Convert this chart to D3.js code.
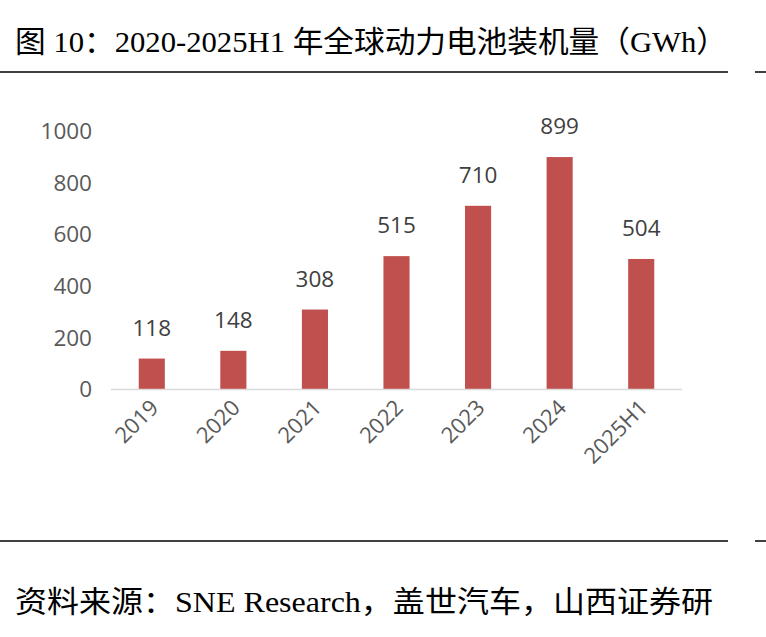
<!DOCTYPE html>
<html>
<head>
<meta charset="utf-8">
<script src="https://cdn.jsdelivr.net/npm/d3@7"></script>
<style>
  body { margin: 0; background: #fff; }
</style>
</head>
<body>
<svg id="chart" width="766" height="637"></svg>
<script>
var years = ['2019', '2020', '2021', '2022', '2023', '2024', '2025H1'];
var installs = [118, 148, 308, 515, 710, 899, 504];
var yTicks = [0, 200, 400, 600, 800, 1000];

var svg = d3.select('#chart');
var cjk = '"Liberation Serif", "Times New Roman", "Noto Sans CJK SC", serif';
var sans = '"Open Sans", "Noto Sans", sans-serif';

// title + rules
svg.append('text')
    .attr('x', 15)
    .attr('y', 52)
    .attr('textLength', 712)
    .attr('lengthAdjust', 'spacingAndGlyphs')
    .style('font-family', cjk)
    .style('font-size', '30px')
    .style('fill', '#000')
    .text('图 10：2020-2025H1 年全球动力电池装机量（GWh）');

svg.append('line')
    .attr('x1', 0).attr('x2', 728)
    .attr('y1', 72).attr('y2', 72)
    .style('stroke', '#000').style('stroke-width', 1.5);
svg.append('line')
    .attr('x1', 755).attr('x2', 766)
    .attr('y1', 72).attr('y2', 72)
    .style('stroke', '#000').style('stroke-width', 1.5);

svg.append('line')
    .attr('x1', 0).attr('x2', 728)
    .attr('y1', 541).attr('y2', 541)
    .style('stroke', '#000').style('stroke-width', 1.5);
svg.append('line')
    .attr('x1', 755).attr('x2', 766)
    .attr('y1', 541).attr('y2', 541)
    .style('stroke', '#000').style('stroke-width', 1.5);

svg.append('text')
    .attr('x', 15)
    .attr('y', 612)
    .attr('textLength', 698)
    .attr('lengthAdjust', 'spacingAndGlyphs')
    .style('font-family', cjk)
    .style('font-size', '30px')
    .style('fill', '#000')
    .text('资料来源：SNE Research，盖世汽车，山西证券研');

// scales
var x = d3.scaleBand()
    .domain(years)
    .range([111, 682])
    .paddingInner(0.68)
    .paddingOuter(0.34);

var y = d3.scaleLinear()
    .domain([0, 1000])
    .range([389, 131]);

// y tick labels
svg.selectAll('.ytick')
    .data(yTicks)
    .enter().append('text')
    .attr('x', 92)
    .attr('y', function(d) { return y(d); })
    .attr('dy', '0.36em')
    .attr('text-anchor', 'end')
    .style('font-family', sans)
    .style('font-size', '22.5px')
    .style('fill', '#595959')
    .text(function(d) { return d; });

// bars
svg.selectAll('.bar')
    .data(installs)
    .enter().append('rect')
    .attr('x', function(d, i) { return x(years[i]); })
    .attr('y', function(d) { return y(d); })
    .attr('width', x.bandwidth())
    .attr('height', function(d) { return y(0) - y(d); })
    .style('fill', '#c0504d');

// baseline
svg.append('line')
    .attr('x1', 111).attr('x2', 682)
    .attr('y1', y(0) + 0.5).attr('y2', y(0) + 0.5)
    .style('stroke', '#d9d9d9').style('stroke-width', 1.5);

// value labels
svg.selectAll('.val')
    .data(installs)
    .enter().append('text')
    .attr('x', function(d, i) { return x(years[i]) + x.bandwidth() / 2; })
    .attr('y', function(d) { return y(d) - 23; })
    .attr('text-anchor', 'middle')
    .style('font-family', sans)
    .style('font-size', '22.5px')
    .style('fill', '#404040')
    .text(function(d) { return d; });

// x labels, rotated
svg.selectAll('.xlab')
    .data(years)
    .enter().append('text')
    .attr('transform', function(d) {
        var cx = x(d) + x.bandwidth() / 2 + 8;
        return 'translate(' + cx + ',' + 409 + ') rotate(-45)';
    })
    .attr('text-anchor', 'end')
    .style('font-family', sans)
    .style('font-size', '22px')
    .style('fill', '#595959')
    .text(function(d) { return d; });
</script>
</body>
</html>
